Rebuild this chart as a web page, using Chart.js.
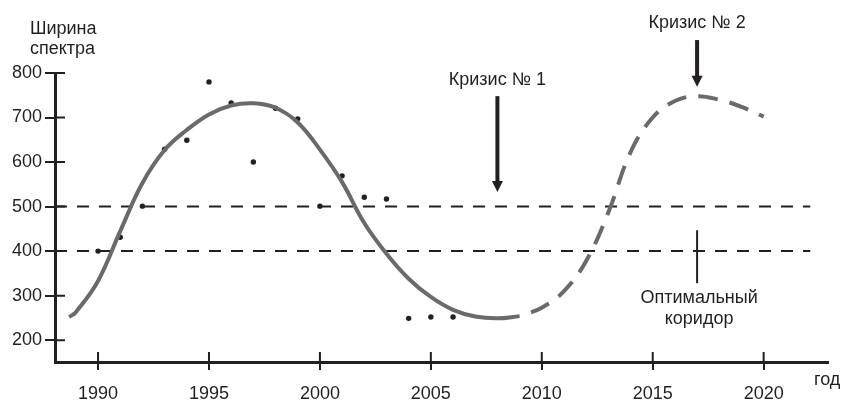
<!DOCTYPE html>
<html>
<head>
<meta charset="utf-8">
<script src="https://cdn.jsdelivr.net/npm/chart.js@4"></script>
<style>
  html, body { margin: 0; padding: 0; background: #fff; }
  #wrap { width: 844px; height: 403px; position: relative; }
</style>
</head>
<body>
<div id="wrap"><canvas id="chart"></canvas></div>
<script>
// ----- Данные -----
const pointYears  = [1990, 1991, 1992, 1993, 1994, 1995, 1996, 1997, 1998, 1999, 2000, 2001, 2002, 2003, 2004, 2005, 2006];
const pointValues = [400, 431, 501, 629, 649, 780, 733, 600, 721, 697, 501, 569, 521, 517, 249, 252, 252];

// сглаженная кривая (сплошная часть)
const trendYears  = [1988.7, 1989, 1990, 1991, 1992, 1993, 1994, 1995, 1996, 1997, 1998, 1999, 2000, 2001, 2002, 2003, 2004, 2005, 2006, 2007, 2008, 2009];
const trendValues = [252, 263, 333, 445, 553, 627, 672, 707, 727, 732, 722, 689, 628, 555, 463, 394, 338, 297, 268, 253, 249, 254];

// прогноз (пунктир)
const forecastYears  = [2009, 2010, 2011, 2012, 2013, 2014, 2015, 2016, 2017, 2018, 2019, 2020];
const forecastValues = [254, 273, 310, 378, 487, 622, 700, 737, 748, 740, 724, 702];

// оптимальный коридор
const corridorValues = [400, 500];
const corridorYears  = [1988.06, 2022.1];

const xTicks = [1990, 1995, 2000, 2005, 2010, 2015, 2020];
const yTicks = [200, 300, 400, 500, 600, 700, 800];

// кризисы: подпись, год, начало и конец стрелки, уровень подписи
const crisisLabels = ['Кризис № 1', 'Кризис № 2'];
const crisisYears  = [2008, 2017];
const crisisFrom   = [748, 874];
const crisisTo     = [533, 769];
const crisisText   = [784, 912];

// отметка коридора
const corridorMarkYear = 2017;
const corridorMarkFrom = 447;
const corridorMarkTo   = 328;
const corridorLabel    = ['Оптимальный', 'коридор'];
const corridorLabelAt  = [294, 247];

const FONT = "'Liberation Sans', Arial, sans-serif";
const INK  = '#231f20';
const GRAY = '#6a6a6a';

const zip = (xs, ys) => xs.map((x, i) => ({ x, y: ys[i] }));

// ----- Оформление поверх графика -----
const annotations = {
  id: 'annotations',
  afterDraw(chart) {
    const { ctx, chartArea: a, scales: { x, y } } = chart;
    ctx.save();
    ctx.strokeStyle = INK;
    ctx.fillStyle = INK;

    // внутренние половинки делений
    ctx.lineWidth = 2;
    ctx.beginPath();
    xTicks.forEach(v => { const px = x.getPixelForValue(v); ctx.moveTo(px, a.bottom); ctx.lineTo(px, a.bottom - 10); });
    yTicks.forEach(v => { const py = y.getPixelForValue(v); ctx.moveTo(a.left, py); ctx.lineTo(a.left + 10, py); });
    ctx.stroke();

    ctx.font = `18px ${FONT}`;
    ctx.textAlign = 'center';
    ctx.textBaseline = 'middle';

    // стрелки кризисов
    crisisYears.forEach((yr, i) => {
      const px = x.getPixelForValue(yr);
      const top = y.getPixelForValue(crisisFrom[i]);
      const tip = y.getPixelForValue(crisisTo[i]);
      ctx.lineWidth = 4;
      ctx.beginPath();
      ctx.moveTo(px, top);
      ctx.lineTo(px, tip - 9);
      ctx.stroke();
      ctx.beginPath();
      ctx.moveTo(px - 5.5, tip - 11);
      ctx.lineTo(px + 5.5, tip - 11);
      ctx.lineTo(px, tip);
      ctx.closePath();
      ctx.fill();
      ctx.fillText(crisisLabels[i], px, y.getPixelForValue(crisisText[i]));
    });

    // отметка коридора
    const mx = x.getPixelForValue(corridorMarkYear);
    ctx.lineWidth = 2;
    ctx.beginPath();
    ctx.moveTo(mx, y.getPixelForValue(corridorMarkFrom));
    ctx.lineTo(mx, y.getPixelForValue(corridorMarkTo));
    ctx.stroke();
    corridorLabel.forEach((t, i) => ctx.fillText(t, mx + 2, y.getPixelForValue(corridorLabelAt[i])));

    // подписи осей
    ctx.textAlign = 'left';
    ctx.fillText('Ширина', a.left - 25, a.top - 44);
    ctx.fillText('спектра', a.left - 25, a.top - 24);
    ctx.fillText('год', a.right - 14, a.bottom + 18);
    ctx.restore();
  }
};

new Chart(document.getElementById('chart'), {
  type: 'scatter',
  data: {
    datasets: [
      { type: 'line', data: zip(trendYears, trendValues), borderColor: GRAY, borderWidth: 4,
        tension: 0.4, pointRadius: 0, order: 0 },
      { type: 'line', data: zip(forecastYears, forecastValues), borderColor: GRAY, borderWidth: 4,
        borderDash: [20, 12], borderDashOffset: 20, tension: 0.4, pointRadius: 0, order: 0 },
      { data: zip(pointYears, pointValues), pointRadius: 2.7, backgroundColor: INK, borderWidth: 0, order: 1 },
      ...corridorValues.map(v => ({
        type: 'line', data: corridorYears.map(yr => ({ x: yr, y: v })), borderColor: INK, borderWidth: 2,
        borderDash: [12, 10], pointRadius: 0, order: 2
      }))
    ]
  },
  options: {
    responsive: true,
    maintainAspectRatio: false,
    animation: false,
    layout: { padding: { top: 73, right: 16, bottom: 0, left: 0 } },
    plugins: { legend: { display: false }, tooltip: { enabled: false } },
    scales: {
      x: {
        type: 'linear', min: 1988.06, max: 2022.9,
        afterBuildTicks: s => { s.ticks = xTicks.map(v => ({ value: v })); },
        afterFit: s => { s.height = 41; },
        grid: { drawOnChartArea: false, tickLength: 8, lineWidth: 2, color: INK },
        border: { color: INK, width: 3 },
        ticks: { font: { family: FONT, size: 18 }, color: INK, padding: 13, maxRotation: 0, callback: v => String(v) }
      },
      y: {
        min: 151, max: 800,
        afterBuildTicks: s => { s.ticks = yTicks.map(v => ({ value: v })); },
        afterFit: s => { s.width = 55; },
        grid: { drawOnChartArea: false, tickLength: 10, lineWidth: 2, color: INK },
        border: { color: INK, width: 3 },
        ticks: { font: { family: FONT, size: 18 }, color: INK, padding: 3, callback: v => String(v) }
      }
    }
  },
  plugins: [annotations]
});
</script>
</body>
</html>
